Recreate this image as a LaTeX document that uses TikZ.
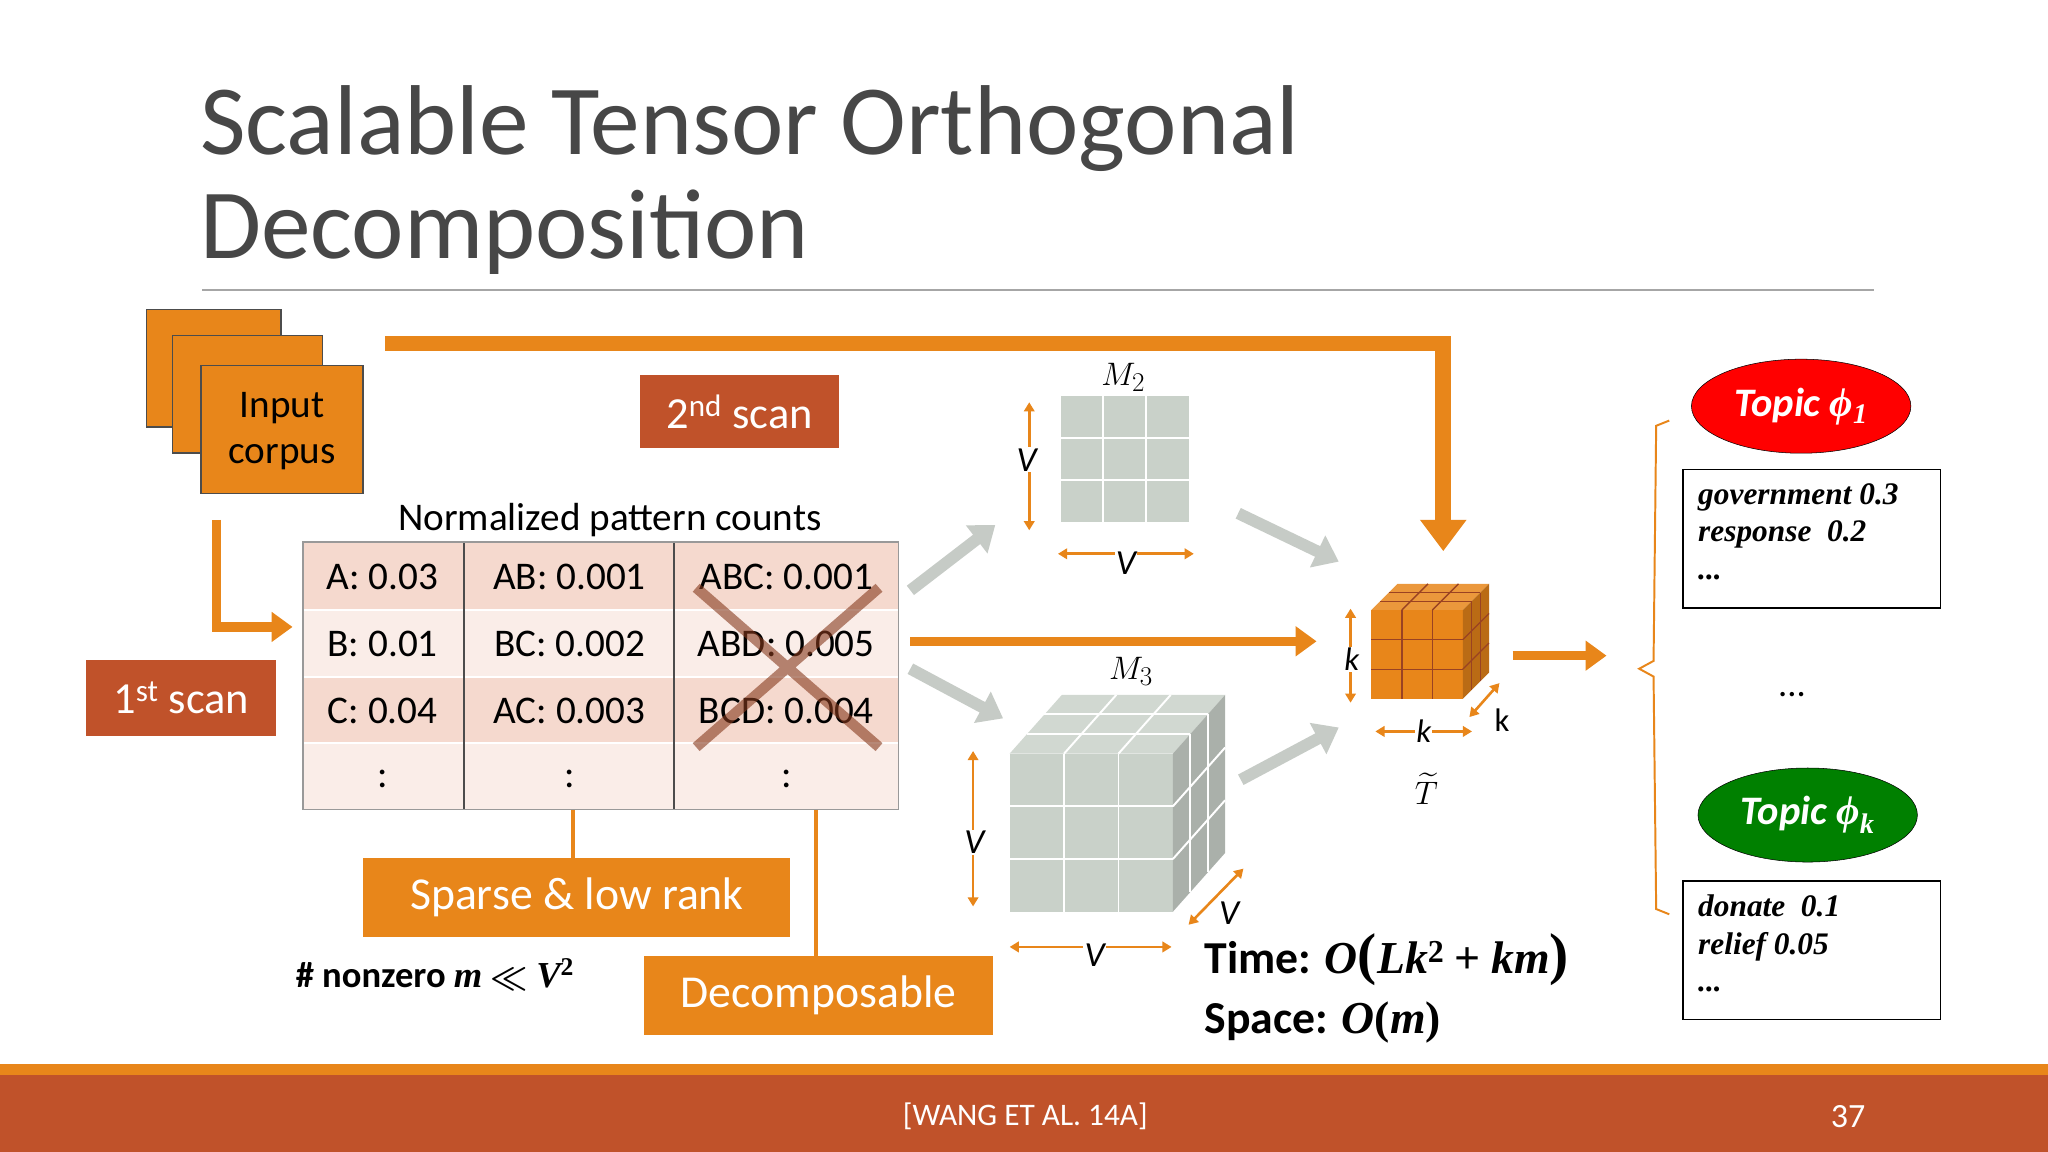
\documentclass[tikz,border=0pt]{standalone}
\usepackage{fontspec}
\usepackage{amsmath}
\setmainfont{Carlito}
\newfontfamily\serifbi{Liberation Serif}[BoldItalicFont={* Bold Italic}]
\usetikzlibrary{arrows.meta,decorations.pathreplacing,shapes.geometric}
\definecolor{org}{HTML}{E8861A}
\definecolor{rust}{HTML}{C0522A}
\definecolor{pinkA}{HTML}{F5D9CE}
\definecolor{pinkB}{HTML}{FAEDE8}
\definecolor{gry}{HTML}{C9D1C9}
\definecolor{garr}{HTML}{C6CBC6}
\newcommand{\fs}[1]{\fontsize{#1pt}{1.2\dimexpr #1pt\relax}\selectfont}
\newcommand{\bi}[1]{{\serifbi\bfseries\itshape #1}}
\newcommand{\bu}[1]{{\serifbi\bfseries #1}}
\tikzset{
 obox/.style={draw=black!70,fill=org,line width=1.2pt},
 lbl/.style={text=white,fill=org,minimum height=60pt,anchor=north west,inner sep=0,font=\fs{35}},
 scanbox/.style={fill=rust,text=white,inner sep=0,anchor=north west,font=\fs{34}},
 fat/.style={line width=12pt,org,-{Triangle[length=24pt,width=34pt]}},
 med/.style={line width=7pt,org,-{Triangle[length=16pt,width=22pt]}},
 garrow/.style={line width=9pt,garr,-{Triangle[length=18pt,width=26pt]}},
 tarr/.style={line width=2pt,org,{Triangle[length=7pt,width=8pt]}-{Triangle[length=7pt,width=8pt]}},
 tabtxt/.style={font=\fs{30}},
 topic/.style={ellipse,draw=black,minimum width=168pt,minimum height=72pt,text=white,font=\fs{31}\bfseries\itshape},
 wbox/.style={draw=black,line width=1.2pt,fill=white,anchor=north west,minimum width=197pt,minimum height=106pt,inner sep=0},
}
\begin{document}
\begin{tikzpicture}[x=1pt,y=-1pt]
\useasboundingbox (0,0) rectangle (1568,882);
\fill[white] (0,0) rectangle (1568,882);
% title
\node[anchor=base west,inner sep=0,text=black!72,font=\fs{76}] (t1) at (153,118) {Scalable Tensor Orthogonal};
\node[anchor=base west,inner sep=0,text=black!72,font=\fs{76}] (t2) at (153,198) {Decomposition};
\draw[black!35,line width=1pt] (155,222) -- (1435,222);
% footer
\fill[org] (0,815) rectangle (1568,823);
\fill[rust] (0,823) rectangle (1568,882);
\node[text=white,font=\fs{24}] (ref) at (785,855) {[WANG ET AL. 14A]};
\node[text=white,font=\fs{26}] (pg) at (1415,855) {37};
% corpus
\draw[obox] (112,237) rectangle (215,327);
\draw[obox] (132,257) rectangle (247,347);
\draw[obox] (154,280) rectangle (278,378);
\node[align=center,font=\fs{30},inner sep=0] (corp) at (216,330) {Input\\[-1pt]corpus};
% arrows
\coordinate (c1) at (166,398);\coordinate (c2) at (166,480);\coordinate (c3) at (224,480);
\draw[med] (c1) -- (c2) -- (c3);
\coordinate (b1) at (295,263);\coordinate (b2) at (1105,263);\coordinate (b3) at (1105,422);
\draw[fat] (b1) -- (b2) -- (b3);
\node[scanbox,minimum width=145pt,minimum height=58pt] (s1) at (66,505) {1\textsuperscript{st} scan};
\node[scanbox,minimum width=152pt,minimum height=56pt] (s2) at (490,287) {2\textsuperscript{nd} scan};
% table
\node[font=\fs{30}] (npc) at (467,398) {Normalized pattern counts};
\fill[pinkA] (232,415) rectangle (688,467);
\fill[pinkB] (232,467) rectangle (688,518);
\fill[pinkA] (232,518) rectangle (688,569);
\fill[pinkB] (232,569) rectangle (688,620);
\draw[white,line width=1.5pt] (232,467) -- (688,467) (232,518) -- (688,518) (232,569) -- (688,569);
\draw[black!70,line width=1.5pt] (355,415) -- (355,620) (516,415) -- (516,620);
\draw[black!40,line width=1pt] (232,415) rectangle (688,620);
\foreach \x/\a/\b/\c/\d in {293/A: 0.03/B: 0.01/C: 0.04/:,436/AB: 0.001/BC: 0.002/AC: 0.003/:,602/ABC: 0.001/ABD: 0.005/BCD: 0.004/:}{
 \node[tabtxt] at (\x,442) {\a};\node[tabtxt] at (\x,493) {\b};
 \node[tabtxt] at (\x,544) {\c};\node[tabtxt] at (\x,596) {\d};}
\draw[rust!70!black,opacity=0.6,line width=8pt] (533,450) -- (673,572) (673,450) -- (533,572);
\draw[org,line width=3pt] (439,620) -- (439,657) (625,620) -- (625,732);
\node[lbl,minimum width=327pt] (sl) at (278,657) {Sparse \& low rank};
\node[lbl,minimum width=267pt] (dc) at (493,732) {Decomposable};
\node[font=\fs{28}\bfseries] (nz) at (333,746) {\# nonzero \bi{m} $\boldsymbol{\ll}$ \bi{V}\textsuperscript{\bu{2}}};
% gray arrows
\draw[garrow] (697,452) -- (762,402);
\draw[garrow] (697,512) -- (768,550);
\draw[garrow] (948,393) -- (1025,430);
\draw[garrow] (950,597) -- (1025,557);
\draw[med] (697,491) -- (1008,491);
% M2
\fill[gry] (812,303) rectangle (910,400);
\draw[white,line width=1.5pt] (844.7,303) -- (844.7,400) (877.3,303) -- (877.3,400) (812,335.3) -- (910,335.3) (812,367.7) -- (910,367.7);
\node[font=\fs{28}] (m2) at (860,289) {$M_2$};
\draw[tarr] (788,308) -- (788,406);
\node[font=\fs{27}\itshape,fill=white,inner sep=1pt] at (786,352) {V};
\draw[tarr] (810,424) -- (914,424);
\node[font=\fs{27}\itshape,fill=white,inner sep=1pt] at (862,431) {V};
% M3 cube
\fill[gry] (773,577) rectangle (898,698);
\fill[gry!85!white] (773,577) -- (813,532) -- (938,532) -- (898,577) -- cycle;
\fill[gry!80!black!90] (898,577) -- (938,532) -- (938,653) -- (898,698) -- cycle;
\foreach \i in {1,2}{
 \draw[white,line width=1.5pt] ({773+125*\i/3},577) -- ({773+125*\i/3},698);
 \draw[white,line width=1.5pt] (773,{577+121*\i/3}) -- (898,{577+121*\i/3});
 \draw[white,line width=1.5pt] ({773+125*\i/3},577) -- ({813+125*\i/3},532);
 \draw[white,line width=1.5pt] ({773+40*\i/3},{577-45*\i/3}) -- ({898+40*\i/3},{577-45*\i/3});
 \draw[white,line width=1.5pt] ({898+40*\i/3},{577-45*\i/3}) -- ({898+40*\i/3},{698-45*\i/3});
 \draw[white,line width=1.5pt] (898,{577+121*\i/3}) -- (938,{532+121*\i/3});}
\node[font=\fs{28}] (m3) at (866,514) {$M_3$};
\draw[tarr] (745,575) -- (745,694);
\node[font=\fs{27}\itshape,fill=white,inner sep=1pt] at (746,645) {V};
\draw[tarr] (773,725) -- (897,725);
\node[font=\fs{27}\itshape,fill=white,inner sep=1pt] at (838,731) {V};
\draw[tarr] (910,708) -- (952,665);
\node[font=\fs{27}\itshape] at (941,699) {V};
% T cube
\fill[org] (1050,467) rectangle (1120,535);
\fill[org!85!white] (1050,467) -- (1070,447) -- (1140,447) -- (1120,467) -- cycle;
\fill[org!80!black] (1120,467) -- (1140,447) -- (1140,515) -- (1120,535) -- cycle;
\foreach \i in {1,2}{
 \draw[rust!80!black,line width=1pt] ({1050+70*\i/3},467) -- ({1050+70*\i/3},535);
 \draw[rust!80!black,line width=1pt] (1050,{467+68*\i/3}) -- (1120,{467+68*\i/3});
 \draw[rust!80!black,line width=1pt] ({1050+70*\i/3},467) -- ({1070+70*\i/3},447);
 \draw[rust!80!black,line width=1pt] ({1050+20*\i/3},{467-20*\i/3}) -- ({1120+20*\i/3},{467-20*\i/3});
 \draw[rust!80!black,line width=1pt] ({1120+20*\i/3},{467-20*\i/3}) -- ({1120+20*\i/3},{535-20*\i/3});
 \draw[rust!80!black,line width=1pt] (1120,{467+68*\i/3}) -- (1140,{447+68*\i/3});}
\draw[tarr] (1034,466) -- (1034,538);
\node[font=\fs{25}\itshape,fill=white,inner sep=1pt] at (1035,505) {k};
\draw[tarr] (1053,560) -- (1127,560);
\node[font=\fs{25}\itshape,fill=white,inner sep=1pt] at (1090,560) {k};
\draw[tarr] (1125,549) -- (1148,523);
\node[font=\fs{25}] at (1150,551) {k};
\node[font=\fs{28}] (tt) at (1092,604) {$\widetilde{T}$};
\draw[med] (1158,502) -- (1230,502);
% brace
\draw[org,line width=1.5pt] (1278,322) -- (1268,326) -- (1266,506) -- (1255,512) -- (1266,518) -- (1268,696) -- (1278,700);
% topics
\node[topic,fill=red] (tp1) at (1379,311) {Topic \bi{ϕ\textsubscript{1}}};
\node[wbox] (w1) at (1288,359) {};
\node[anchor=north west,align=left,font=\fs{24}\serifbi\bfseries\itshape,inner sep=0] at (1300,370) {government 0.3\\response~~0.2\\...};
\node[font=\fs{28}] (dots) at (1372,532) {...};
\node[topic,fill=green!50!black] (tpk) at (1384,624) {Topic \bi{ϕ\textsubscript{k}}};
\node[wbox] (w2) at (1288,674) {};
\node[anchor=north west,align=left,font=\fs{24}\serifbi\bfseries\itshape,inner sep=0] at (1300,685) {donate~~0.1\\relief 0.05\\...};
% complexity
\node[anchor=west,font=\fs{35}\bfseries,inner sep=0] (time) at (922,735) {Time: \bi{O}{\fs{44}\bu{(}}\bi{Lk}\textsuperscript{\bu{2}} \bu{+} \bi{km}{\fs{44}\bu{)}}};
\node[anchor=west,font=\fs{35}\bfseries,inner sep=0] (space) at (922,783) {Space: \bi{O}\bu{(}\bi{m}\bu{)}};
\end{tikzpicture}
\end{document}
